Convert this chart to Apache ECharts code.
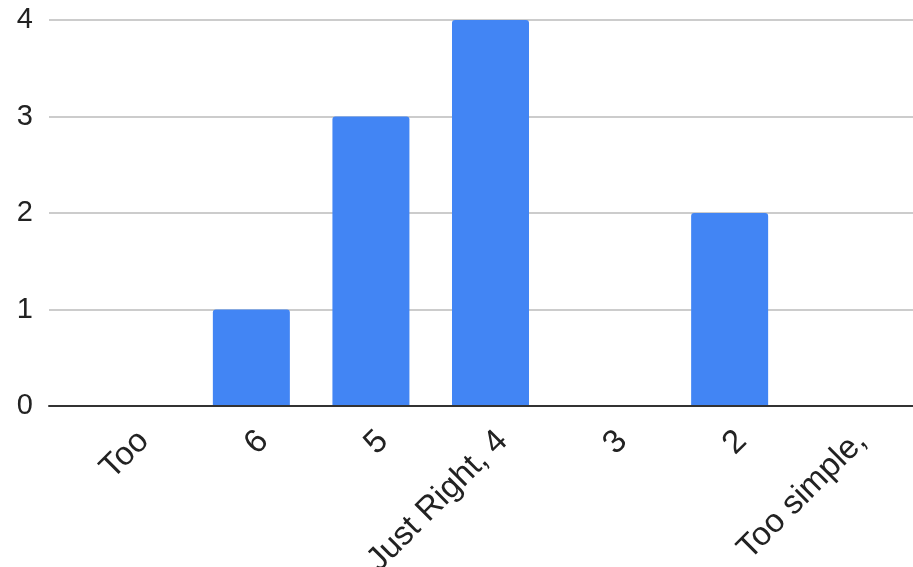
<!DOCTYPE html>
<html>
<head>
<meta charset="utf-8">
<script src="https://cdn.jsdelivr.net/npm/echarts@6/dist/echarts.min.js"></script>
<style>
  html, body { margin: 0; padding: 0; background: #fff; }
  #chart { width: 913px; height: 567px; }
</style>
</head>
<body>
<div id="chart"></div>
<script>
// Response counts per rating
const categories = ['Too', '6', '5', 'Just Right, 4', '3', '2', 'Too simple,'];
const counts = [0, 1, 3, 4, 0, 2, 0];
const yTicks = { min: 0, max: 4, interval: 1 };

const FONT = '"Liberation Sans", Arial, sans-serif';
const chart = echarts.init(document.getElementById('chart'));

chart.setOption({
  animation: false,
  backgroundColor: '#ffffff',
  grid: [
    // frame grid: gridlines and baseline across the full width
    { left: 49, right: 0, top: 20, bottom: 161, outerBoundsMode: 'none' },
    // plotting grid for the bars
    { left: 72, right: 4, top: 20, bottom: 161, outerBoundsMode: 'none' },
    // label grid: same band widths, nudged right so slanted labels end past the tick
    { left: 84, right: -8, top: 20, bottom: 161, outerBoundsMode: 'none' }
  ],
  xAxis: [
    {
      gridIndex: 0,
      type: 'category',
      data: [''],
      axisLine: { show: true, lineStyle: { color: '#333333', width: 2 } },
      axisTick: { show: false },
      axisLabel: { show: false },
      z: 5
    },
    {
      gridIndex: 1,
      type: 'category',
      data: categories,
      axisLine: { show: false },
      axisTick: { show: false },
      axisLabel: { show: false }
    },
    {
      gridIndex: 2,
      type: 'category',
      data: categories,
      axisLine: { show: false },
      axisTick: { show: false },
      axisLabel: {
        rotate: 45,
        margin: 30,
        fontSize: 33,
        color: '#222222',
        fontFamily: FONT,
        interval: 0
      }
    }
  ],
  yAxis: [
    {
      gridIndex: 0,
      type: 'value',
      min: yTicks.min,
      max: yTicks.max,
      interval: yTicks.interval,
      axisLine: { show: false },
      axisTick: { show: false },
      axisLabel: { fontSize: 29, color: '#222222', fontFamily: FONT, margin: 16 },
      splitLine: { lineStyle: { color: '#cccccc', width: 2 } }
    },
    {
      gridIndex: 1,
      type: 'value',
      min: yTicks.min,
      max: yTicks.max,
      interval: yTicks.interval,
      show: false,
      splitLine: { show: false }
    },
    {
      gridIndex: 2,
      type: 'value',
      min: yTicks.min,
      max: yTicks.max,
      interval: yTicks.interval,
      show: false,
      splitLine: { show: false }
    }
  ],
  series: [
    {
      type: 'bar',
      xAxisIndex: 1,
      yAxisIndex: 1,
      data: counts,
      barWidth: 77,
      itemStyle: { color: '#4285f4', borderRadius: [3, 3, 0, 0] },
      z: 3
    }
  ]
});
</script>
</body>
</html>
